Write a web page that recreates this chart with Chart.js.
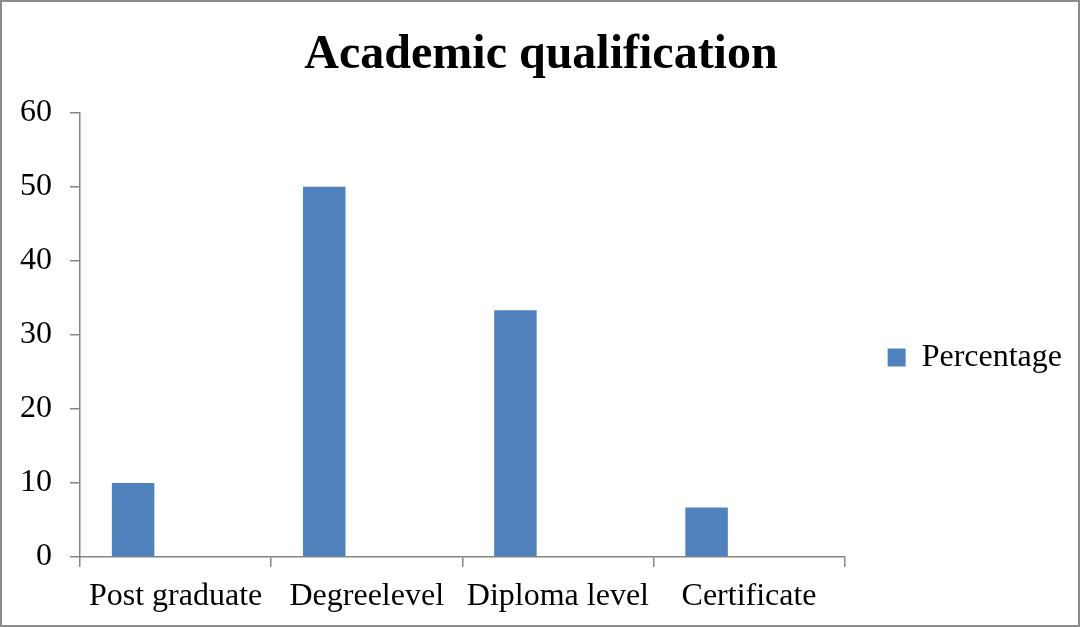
<!DOCTYPE html>
<html>
<head>
<meta charset="utf-8">
<script src="https://cdn.jsdelivr.net/npm/chart.js@4"></script>
<style>
  body { margin: 0; background: #fff; }
  #wrap { position: absolute; left: 0; top: 0; width: 1080px; height: 627px; box-sizing: border-box; border: 2px solid #8c8c8c; background: #fff; }
</style>
</head>
<body>
<div id="wrap"><canvas id="chart" width="1076" height="623"></canvas></div>
<script>
// data
const categories = ['Post graduate', 'Degreelevel', 'Diploma level', 'Certificate'];
const percentage = [10, 50, 33.3, 6.67];
const yTicks = [0, 10, 20, 30, 40, 50, 60];

const serif = '"Liberation Serif", "Times New Roman", serif';
const axisGray = '#868686';

function academicChart(id) {
    const data = {
        labels: categories,
        datasets: [
            { label: 'Percentage', data: percentage, backgroundColor: '#4F81BD' },
            // empty series keep the bar in the left third of each slot (like the original)
            { label: '', data: [], backgroundColor: 'transparent' },
            { label: '', data: [], backgroundColor: 'transparent' }
        ]
    };
    const config = {
        type: 'bar',
        data: data,
        options: {
            responsive: false,
            animation: false,
            categoryPercentage: 3 / 4.5,
            barPercentage: 1,
            layout: { padding: { left: 8, right: 6, top: 0, bottom: -2 } },
            plugins: {
                title: {
                    display: true,
                    text: 'Academic qualification',
                    color: '#000',
                    font: { family: serif, size: 48, weight: 'bold' },
                    padding: { top: 25, bottom: 28 }
                },
                legend: {
                    position: 'right',
                    filter: item => item.text !== '',
                    title: { display: true, text: ' ', font: { size: 10 }, padding: { top: 224, bottom: 0 } },
                    labels: {
                        boxWidth: 18, boxHeight: 18,
                        color: '#000',
                        font: { family: serif, size: 32 },
                        padding: 43
                    }
                },
                tooltip: { enabled: false }
            },
            scales: {
                x: {
                    offset: true,
                    grid: { display: true, offset: true, drawOnChartArea: false, tickLength: 10, color: axisGray, lineWidth: 1.5 },
                    border: { color: axisGray, width: 1.5 },
                    ticks: { color: '#000', font: { family: serif, size: 32, lineHeight: 1 }, padding: 14, maxRotation: 0 }
                },
                y: {
                    min: 0,
                    max: 60,
                    afterBuildTicks: s => { s.ticks = yTicks.map(v => ({ value: v })); },
                    afterFit: s => { s.width = 70; },
                    grid: { display: true, drawOnChartArea: false, tickLength: 10, color: axisGray, lineWidth: 1.5 },
                    border: { color: axisGray, width: 1.5 },
                    ticks: { color: '#000', font: { family: serif, size: 32 }, padding: 18 }
                }
            }
        }
    };
    const ctx = document.getElementById(id).getContext('2d');
    new Chart(ctx, config);
}

academicChart('chart');
</script>
</body>
</html>
